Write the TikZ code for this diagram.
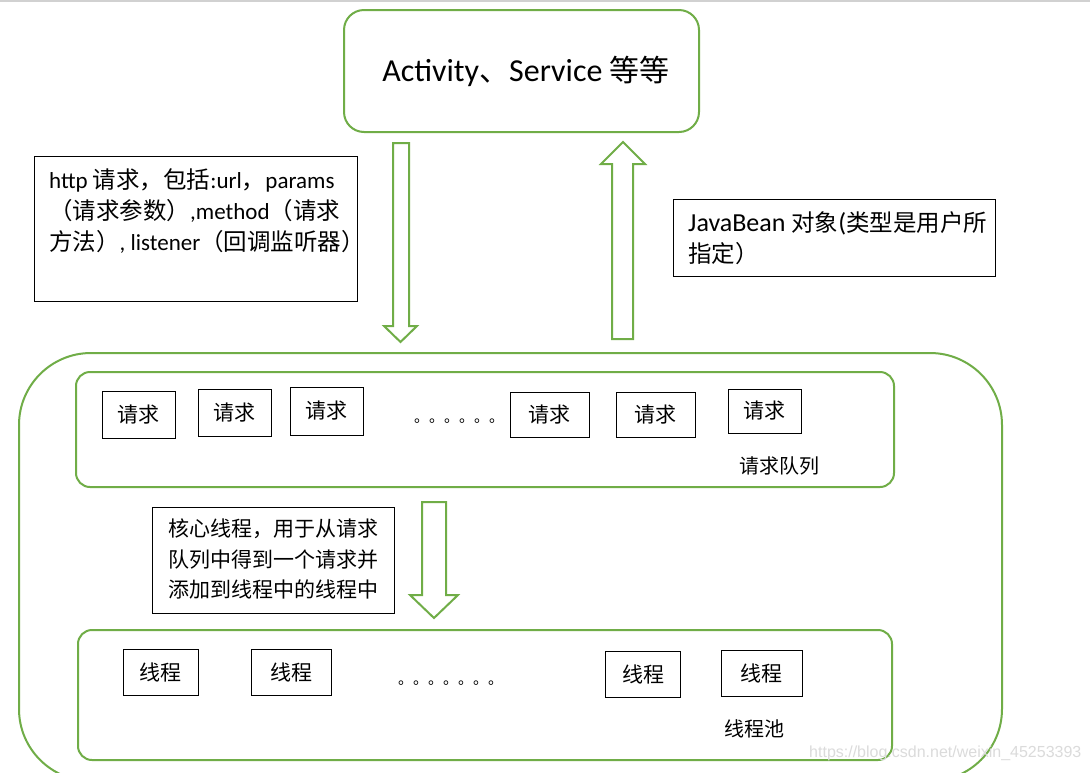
\documentclass[tikz,border=0pt]{standalone}
\usepackage{fontspec}
\setmainfont{Carlito}
\newfontfamily\cjk{Noto Sans CJK SC}
\newfontfamily\wmfont{Liberation Sans}
\definecolor{grn}{HTML}{70AD47}
\newcommand{\cj}[1]{{\fontsize{23.5}{31}\selectfont\cjk #1}}
\tikzset{
  gbox/.style={draw=grn, line width=2pt, inner sep=0pt},
  bbox/.style={draw=black, line width=1pt, inner sep=0pt, font=\fontsize{21}{25}\selectfont\cjk},
  txt/.style={inner sep=0pt, anchor=north west, align=left},
  blockarrow/.style={draw=grn, line width=2pt, fill=white, line join=miter},
  dots/.style={inner sep=0pt, anchor=base west, font=\fontsize{15}{15}\selectfont\cjk},
  lbl/.style={inner sep=0pt, font=\fontsize{20}{24}\selectfont\cjk},
}
\begin{document}
\begin{tikzpicture}[x=1pt,y=-1pt]
\useasboundingbox (0,0) rectangle (1090,772);
\clip (0,0) rectangle (1090,772);
\fill[white] (0,0) rectangle (1090,772);
\draw[black!18, line width=1.5pt] (0,1) -- (1090,1);

% top box
\node[gbox, rounded corners=20pt, minimum width=355pt, minimum height=122pt,
      font=\fontsize{32}{38}\selectfont] (app) at (521.5,71)
      {\hspace*{9pt}Activity{\fontsize{30}{36}\selectfont\cjk 、}Service {\fontsize{30}{36}\selectfont\cjk 等等}};

% request description box
\node[draw=black, line width=1pt, minimum width=323pt, minimum height=145pt] (reqbox) at (195.5,228.5) {};
\node[txt, font=\fontsize{23}{31}\selectfont] (reqtxt) at (49,168)
  {http \cj{请求，包括}:url\cj{，}params\\
   \cj{（请求参数）},method\cj{（请求}\\
   \cj{方法）}, listener\cj{（回调监听器）}};

% result description box
\node[draw=black, line width=1pt, minimum width=322pt, minimum height=77pt] (resbox) at (834,237.5) {};
\node[txt, font=\fontsize{26}{31}\selectfont] (restxt) at (688,211)
  {JavaBean \cj{对象}(\cj{类型是用户所}\\
   \cj{指定）}};

% arrows between app and system
\draw[blockarrow] (393,143) -- (409,143) -- (409,326) -- (417,326) -- (400.5,342) -- (384,326) -- (393,326) -- cycle;
\draw[blockarrow] (612,339) -- (633,339) -- (633,164) -- (645,164) -- (623,142) -- (601,164) -- (612,164) -- cycle;

% big system box
\node[gbox, rounded corners=72pt, minimum width=983pt, minimum height=428pt] (sys) at (510.5,567) {};

% request queue
\node[gbox, rounded corners=14pt, minimum width=818pt, minimum height=115pt] (queue) at (485,429.5) {};
\node[bbox, minimum width=73pt, minimum height=47pt] (r1) at (138.5,414.5) {请求};
\node[bbox, minimum width=73pt, minimum height=47pt] (r2) at (234.5,412.5) {请求};
\node[bbox, minimum width=73pt, minimum height=48pt] (r3) at (326.5,411) {请求};
\node[dots] (qdots) at (414,422) {。。。。。。};
\node[bbox, minimum width=79pt, minimum height=45pt] (r4) at (549.5,414.5) {请求};
\node[bbox, minimum width=79pt, minimum height=45pt] (r5) at (655.5,414.5) {请求};
\node[bbox, minimum width=73pt, minimum height=44pt] (r6) at (764.5,411) {请求};
\node[lbl] (qlabel) at (779,466) {请求队列};

% core thread description
\node[draw=black, line width=1pt, minimum width=242pt, minimum height=106pt] (corebox) at (273.5,560) {};
\node[txt, font=\fontsize{21}{30.5}\selectfont\cjk] (coretxt) at (168,519)
  {核心线程，用于从请求\\队列中得到一个请求并\\添加到线程中的线程中};
\draw[blockarrow] (422,502) -- (446,502) -- (446,595) -- (458,595) -- (434,618) -- (410,595) -- (422,595) -- cycle;

% thread pool
\node[gbox, rounded corners=14pt, minimum width=814pt, minimum height=130pt] (pool) at (485,695) {};
\node[bbox, minimum width=75pt, minimum height=46pt] (t1) at (160.5,672) {线程};
\node[bbox, minimum width=80pt, minimum height=46pt] (t2) at (291,672) {线程};
\node[dots] (pdots) at (398,684) {。。。。。。。};
\node[bbox, minimum width=75pt, minimum height=46pt] (t3) at (643,674) {线程};
\node[bbox, minimum width=81pt, minimum height=46pt] (t4) at (761.5,673) {线程};
\node[lbl] (plabel) at (754.5,729) {线程池};

% watermark
\node[inner sep=0pt, anchor=west, text=black!14, font=\fontsize{16}{16}\selectfont\wmfont] (wm) at (809,753) {https://blog.csdn.net/weixin\_45253393};
\end{tikzpicture}
\end{document}
